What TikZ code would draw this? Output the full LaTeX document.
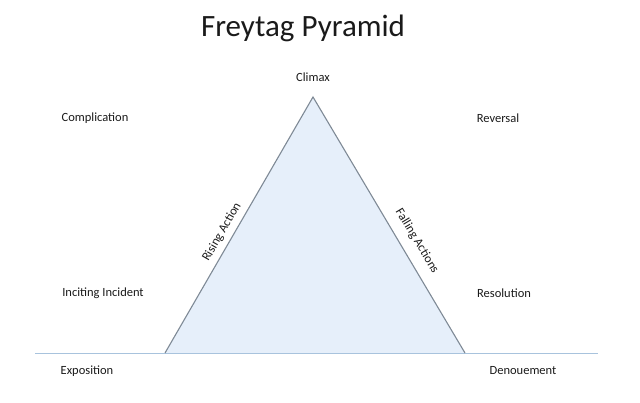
\documentclass[tikz,border=0pt]{standalone}
\usepackage{fontspec}
\setmainfont{Carlito}
\definecolor{pyrfill}{HTML}{E6EFFA}
\definecolor{pyredge}{HTML}{7F8A96}
\definecolor{baseln}{HTML}{A8C3DD}
\definecolor{txt}{HTML}{1A1A1A}
\tikzset{stage/.style={font=\fontsize{12.5}{14}\selectfont, text=txt, inner sep=1pt},
  side/.style={font=\fontsize{12.5}{14}\selectfont, text=txt, inner sep=1pt}}
\begin{document}
\begin{tikzpicture}[x=1pt,y=-1pt]
  \useasboundingbox (0,0) rectangle (640,403);
  \node[font=\fontsize{31}{36}\selectfont, text=txt] (title) at (303,28) {Freytag Pyramid};

  \coordinate (l) at (165,353);
  \coordinate (t) at (313,97);
  \coordinate (r) at (465,353);
  \coordinate (bl) at (35,353);
  \coordinate (br) at (598,353);

%  the pyramid
  \fill [pyrfill] (l) -- (t) -- (r) -- cycle;
  \draw [baseln, line width=0.9pt] (bl) -- (br);
  \draw [pyredge, line width=1.1pt] (l) -- (t) -- (r);

  \node[stage] (climax) at (313,77) {Climax};
  \node[stage] (compl) at (95,118) {Complication};
  \node[stage] (rev) at (498,118) {Reversal};
  \node[stage] (incit) at (103,293) {Inciting Incident};
  \node[stage] (resol) at (504,293) {Resolution};
  \node[stage] (expo) at (87,371) {Exposition};
  \node[stage] (denou) at (523,371) {Denouement};

  \node[side, rotate=60] (rising) at (222,232) {Rising Action};
  \node[side, rotate=-59] (falling) at (417,241) {Falling Actions};
\end{tikzpicture}
\end{document}
